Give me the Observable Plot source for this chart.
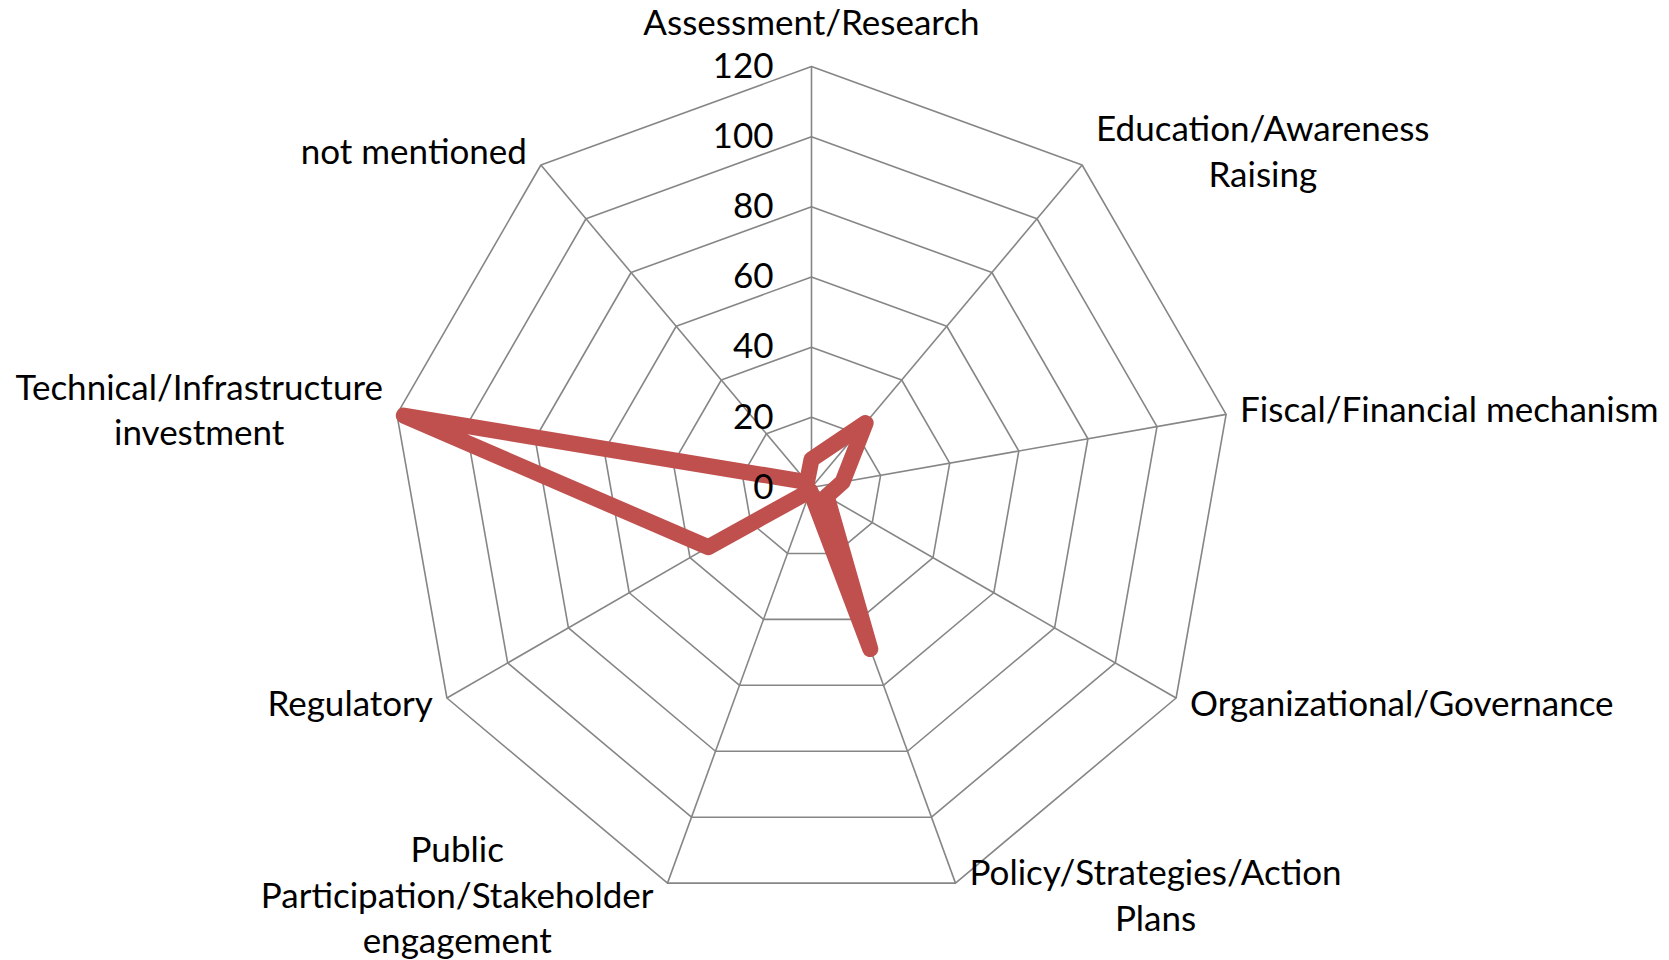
<!DOCTYPE html>
<html><head><meta charset="utf-8">
<script src="https://cdn.jsdelivr.net/npm/d3@7"></script>
<script src="https://cdn.jsdelivr.net/npm/@observablehq/plot@0.6"></script>
<style>html,body{margin:0;padding:0;background:#fff;overflow:hidden}</style>
</head><body><div id="chart"></div>
<script>
const categories = ["Assessment/Research", "Education/Awareness\nRaising", "Fiscal/Financial mechanism", "Organizational/Governance", "Policy/Strategies/Action\nPlans", "Public\nParticipation/Stakeholder\nengagement", "Regulatory", "Technical/Infrastructure\ninvestment", "not mentioned"];
const values = [8, 24, 9, 5, 49, 1, 34, 118, 2];
const ringTicks = [20, 40, 60, 80, 100, 120];
const tickValues = [0, 20, 40, 60, 80, 100, 120];
const tickLabels = ["0", "20", "40", "60", "80", "100", "120"];

const W = 1669, H = 960;
const cx = 811, cy = 487, R = 421, maxV = 120;
const k = R / maxV;
const n = categories.length;
const FONT = "Lato";
const FS = 35;
const ang = i => 2 * Math.PI * i / n;
const px = (i, v) => v * Math.sin(ang(i));
const py = (i, v) => v * Math.cos(ang(i));

// grid rings
const rings = [];
for (const r of ringTicks) for (let i = 0; i < n; i++) rings.push({r, x: px(i, r), y: py(i, r)});
const spokes = categories.map((c, i) => ({x2: px(i, maxV), y2: py(i, maxV)}));
const series = values.map((v, i) => ({x: px(i, v), y: py(i, v)}));

// label layout measured from text
const ctx = document.createElement("canvas").getContext("2d");
ctx.font = `${FS}px ${FONT}`;
const gap = 14;
const labels = categories.map((c, i) => {
  const s = Math.sin(ang(i)), co = Math.cos(ang(i));
  const w = Math.max(...c.split("\n").map(l => ctx.measureText(l).width));
  let dx = 0, dy;
  if (Math.abs(s) < 0.01) { dy = co > 0 ? -46 : 46; }
  else { dx = Math.sign(s) * (gap + w / 2); dy = -15 * co - 4; }
  return {text: c, x: px(i, maxV), y: py(i, maxV), dx, dy};
});

const chart = Plot.plot({
  width: W, height: H, margin: 0,
  x: {domain: [-cx / k, (W - cx) / k], axis: null},
  y: {domain: [-(H - cy) / k, cy / k], axis: null},
  style: {fontFamily: FONT, background: "#fff"},
  marks: [
    Plot.line(rings, {x: "x", y: "y", z: "r", curve: "linear-closed", stroke: "#868686", strokeWidth: 1.6}),
    Plot.link(spokes, {x1: 0, y1: 0, x2: "x2", y2: "y2", stroke: "#868686", strokeWidth: 1.6}),
    Plot.line(series, {x: "x", y: "y", curve: "linear-closed", stroke: "#C0504D", strokeWidth: 16, strokeLinejoin: "round", strokeLinecap: "round"}),
    Plot.text(tickValues, {x: 0, y: d => d, text: (d, i) => tickLabels[i], textAnchor: "end", dx: -38, fontSize: FS, fill: "#000"}),
    ...labels.map(l => Plot.text([l], {x: "x", y: "y", text: "text", dx: l.dx, dy: l.dy, textAnchor: "middle", lineAnchor: "middle", lineHeight: 1.3, fontSize: FS, fill: "#000"}))
  ]
});
document.getElementById("chart").appendChild(chart);
</script>
</body></html>
